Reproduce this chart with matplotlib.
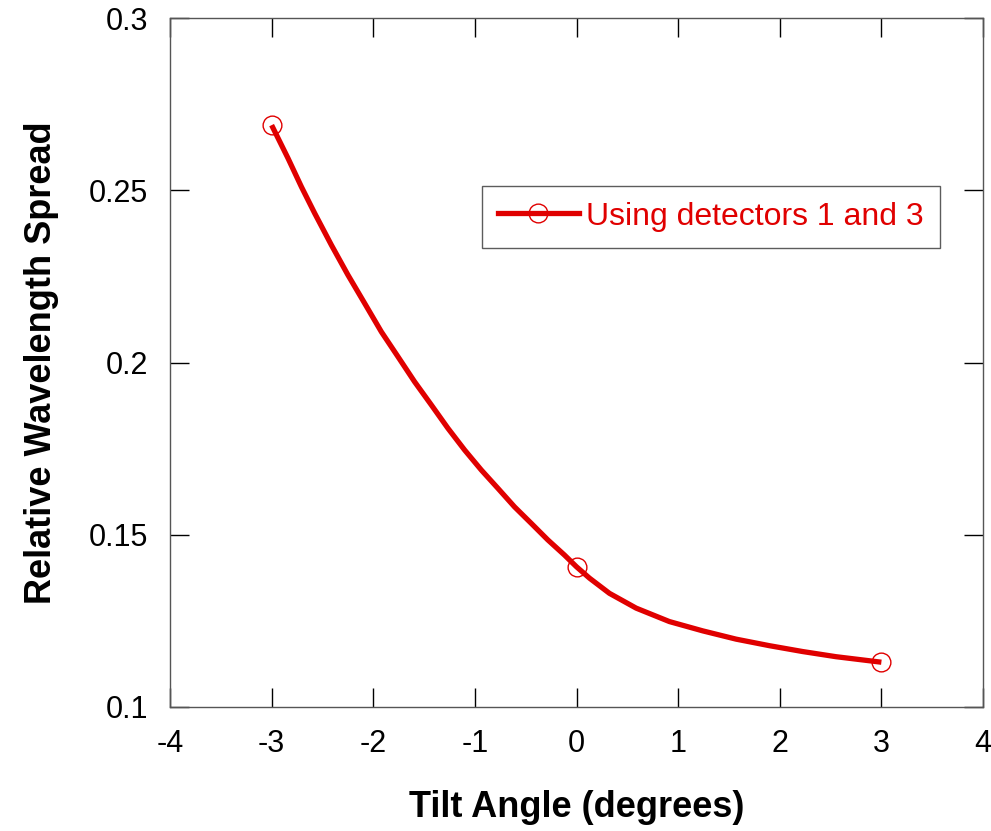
import matplotlib
matplotlib.use("Agg")
import matplotlib.pyplot as plt

plt.rcParams["font.family"] = ["Liberation Sans", "DejaVu Sans"]

# curve (tilt angle in degrees, relative wavelength spread)
curve_x = [-3.0, -2.839, -2.707, -2.576, -2.412, -2.249, -2.085, -1.920, -1.757,
           -1.593, -1.429, -1.265, -1.101, -0.937, -0.774, -0.610, -0.445, -0.282,
           -0.118, 0.0, 0.128, 0.324, 0.587, 0.914, 1.242, 1.570, 1.898, 2.225,
           2.554, 3.0]
curve_y = [0.2689, 0.2593, 0.2510, 0.2433, 0.2341, 0.2254, 0.2172, 0.2089, 0.2017,
           0.1944, 0.1877, 0.1809, 0.1746, 0.1688, 0.1635, 0.1581, 0.1533, 0.1485,
           0.1441, 0.1407, 0.1374, 0.1330, 0.1287, 0.1248, 0.1221, 0.1197, 0.1178,
           0.1161, 0.1146, 0.1130]

# measured points (open circles)
pts_x = [-3.0, 0.0, 3.0]
pts_y = [0.269, 0.1405, 0.113]

RED = "#e00000"
FS = 22

fig = plt.figure(figsize=(9.91, 8.31), dpi=100)
ax = fig.add_axes([170 / 991, 1 - 707 / 831, (983 - 170) / 991, (707 - 18) / 831])

ax.plot(curve_x, curve_y, color=RED, lw=3.8, solid_capstyle="butt",
        solid_joinstyle="round")
ax.plot(pts_x, pts_y, ls="none", marker="o", ms=13.5, mfc="none", mec=RED, mew=1.0)

# legend proxy: line with marker
ax.plot([], [], color=RED, lw=3.8, marker="o", ms=13.5, mfc="none", mec=RED, mew=1.0,
        label="Using detectors 1 and 3")
leg = ax.legend(loc="upper left", bbox_to_anchor=(0.3834, 0.7566), borderaxespad=0,
                fontsize=23, frameon=True, fancybox=False, edgecolor="#333333",
                borderpad=0.5, handlelength=2.55, handletextpad=0.22, labelcolor=RED)
leg.get_frame().set_linewidth(1.0)

ax.set_xlim(-4, 4)
ax.set_ylim(0.1, 0.3)
ax.set_xticks([-4, -3, -2, -1, 0, 1, 2, 3, 4])
ax.set_xticklabels(["-4", "-3", "-2", "-1", "0", "1", "2", "3", "4"])
ax.set_yticks([0.1, 0.15, 0.2, 0.25, 0.3])
ax.set_yticklabels(["0.1", "0.15", "0.2", "0.25", "0.3"])
ax.tick_params(direction="in", length=14, width=1, labelsize=FS, top=True, right=True)
ax.tick_params(axis="x", pad=16)
ax.tick_params(axis="y", pad=16)
for s in ax.spines.values():
    s.set_linewidth(1.0)
    s.set_color("#555555")

ax.set_xlabel("Tilt Angle (degrees)", fontsize=26, fontweight="bold", labelpad=22)
ax.set_ylabel("Relative Wavelength Spread", fontsize=26, fontweight="bold", labelpad=21)

fig.savefig("out.png", dpi=100)
